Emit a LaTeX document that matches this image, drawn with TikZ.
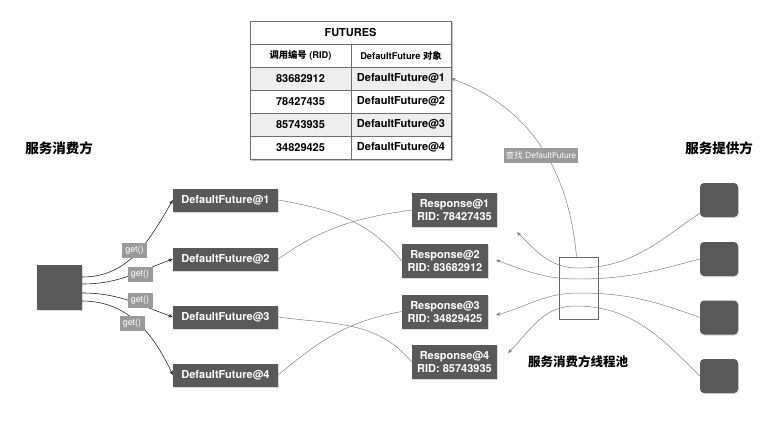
\documentclass[tikz,border=0pt]{standalone}
\usepackage{fontspec}
\setmainfont{TeX Gyre Heros}
\newfontfamily\cjk{Noto Sans CJK SC}
\usetikzlibrary{arrows.meta,shadows,backgrounds}
\definecolor{boxgray}{HTML}{595959}
\definecolor{labelgray}{HTML}{9A9A9A}
\definecolor{rowgray}{HTML}{EEEEEE}
\definecolor{linegray}{HTML}{808080}
\definecolor{tblline}{HTML}{6E6E6E}
\tikzset{
    dark-box/.style = {fill=boxgray, text=white, font=\bfseries\fontsize{11}{13}\selectfont, inner sep=0pt, drop shadow={opacity=0.3, shadow xshift=1pt, shadow yshift=-1pt}},
    future-box/.style = {dark-box, minimum width=105pt, minimum height=23pt},
    resp-box/.style = {dark-box, align=center, minimum width=86pt, minimum height=34pt},
    end-box/.style = {dark-box, minimum width=45pt, minimum height=45pt},
    provider-box/.style = {dark-box, rounded corners=4pt, minimum width=38pt, minimum height=34pt},
    call-tag/.style = {fill=labelgray, text=white, font=\fontsize{9}{10}\selectfont, inner sep=2pt, minimum width=25pt, minimum height=15pt},
    tbl-cell/.style = {draw=tblline, fill=white, line width=0.5pt, minimum height=23pt, inner sep=0pt, font=\bfseries\fontsize{11}{13}\selectfont},
    tbl-head/.style = {tbl-cell, font=\bfseries\fontsize{9.3}{11}\selectfont},
    side-title/.style = {font=\cjk\bfseries\fontsize{13.5}{16}\selectfont},
    call/.style = {draw=black!85, line width=0.6pt, -{Stealth[length=4.5pt,width=3.5pt]}},
    link/.style = {draw=linegray, line width=0.5pt},
    reply/.style = {link, -{Stealth[length=4.5pt,width=3.5pt]}},
}

\begin{document}
\begin{tikzpicture}[x=1pt,y=1pt]
\useasboundingbox (0,0) rectangle (780,-421);

% FUTURES table
\node[tbl-cell, minimum width=201pt] (futures) at (350.5,-32.5) {FUTURES};
\node[tbl-head, minimum width=101pt] (head-rid) at (300.5,-55.5) {{\cjk 调用编号} (RID)};
\node[tbl-head, minimum width=100pt] (head-obj) at (401,-55.5) {DefaultFuture {\cjk 对象}};
\foreach \rid/\shade [count=\i] in {83682912/rowgray, 78427435/white, 85743935/rowgray, 34829425/white} {
    \node[tbl-cell, fill=\shade, minimum width=101pt] (rid-\i) at (300.5,-55.5-23*\i) {\rid};
    \node[tbl-cell, fill=\shade, minimum width=100pt] (obj-\i) at (401,-55.5-23*\i) {DefaultFuture@\i};
}
\begin{scope}[on background layer]
    \fill[black!25] ([xshift=1.5pt,yshift=-1.5pt]futures.north west) rectangle ([xshift=1.5pt,yshift=-1.5pt]obj-4.south east);
\end{scope}

\node[side-title] (consumer-title) at (59,-148) {服务消费方};
\node[side-title] (provider-title) at (719,-148) {服务提供方};

% consumer and futures
\node[end-box] (consumer) at (59.5,-287.5) {};
\node[future-box] (df1) at (225.5,-200) {DefaultFuture@1};
\node[future-box] (df2) at (225.5,-259) {DefaultFuture@2};
\node[future-box] (df3) at (225.5,-317) {DefaultFuture@3};
\node[future-box] (df4) at (225.5,-375) {DefaultFuture@4};

\draw[call] ([yshift=10.5pt]consumer.east) to[out=0,in=240] (df1.west);
\draw[call] ([yshift=3.5pt]consumer.east) to[out=0,in=200] (df2.west);
\draw[call] ([yshift=-5.5pt]consumer.east) to[out=0,in=160] (df3.west);
\draw[call] ([yshift=-13.5pt]consumer.east) to[out=0,in=115] (df4.west);
\node[call-tag] (get1) at (134.5,-250.5) {get()};
\node[call-tag] (get2) at (140,-274.5) {get()};
\node[call-tag] (get3) at (140,-300) {get()};
\node[call-tag] (get4) at (132,-323.5) {get()};

% responses
\node[resp-box, minimum width=85pt] (resp1) at (454.5,-210) {Response@1\\RID: 78427435};
\node[resp-box] (resp2) at (445,-261) {Response@2\\RID: 83682912};
\node[resp-box] (resp3) at (445,-311.5) {Response@3\\RID: 34829425};
\node[resp-box, minimum width=85pt] (resp4) at (454.5,-362) {Response@4\\RID: 85743935};

\draw[link] (df1.east) to[out=-10,in=130] (resp2.west);
\draw[link] (df2.east) to[out=35,in=188] (resp1.west);
\draw[link] (df3.east) to[out=-8,in=130] (resp4.west);
\draw[link] (df4.east) to[out=40,in=190] (resp3.west);

% thread pool and providers
\node[draw=black!60, line width=0.8pt, minimum width=39pt, minimum height=62pt] (pool) at (578.5,-288) {};
\node[side-title, font=\cjk\bfseries\fontsize{12.5}{15}\selectfont] (pool-title) at (578,-362) {服务消费方线程池};

\node[provider-box] (p1) at (719,-200) {};
\node[provider-box] (p2) at (719,-259) {};
\node[provider-box] (p3) at (719,-317.5) {};
\node[provider-box] (p4) at (719,-376) {};

\coordinate (back1) at (517,-232);
\coordinate (back2) at (496,-260);
\coordinate (back3) at (496,-315);
\coordinate (back4) at (508,-353);

\draw[reply] ([yshift=-13pt]p1.west) to[out=215,in=0] (578,-268) to[out=180,in=-45] (back1);
\draw[reply] (p2.west) to[out=195,in=0] (578,-279) to[out=180,in=-20] (back2);
\draw[reply] (p3.west) to[out=160,in=0] (578,-293) to[out=180,in=15] (back3);
\draw[reply] (p4.west) to[out=135,in=0] (575,-306) to[out=180,in=45] (back4);

\draw[reply] ([xshift=-2pt]pool.north) to[out=95,in=-20] (obj-1.east);
\node[call-tag, font=\fontsize{8.5}{10}\selectfont] (lookup) at (541,-155.5) {{\cjk 查找} DefaultFuture};
\end{tikzpicture}
\end{document}
